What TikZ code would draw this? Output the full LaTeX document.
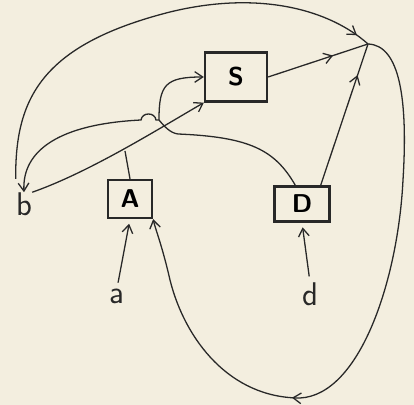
\documentclass[tikz,border=0pt]{standalone}
\usetikzlibrary{arrows.meta,decorations.markings}
\definecolor{paper}{RGB}{243,238,223}
\definecolor{ink}{RGB}{40,40,40}
\tikzset{
  wire/.style={draw=ink,line width=1.1pt},
  box/.style={draw=ink,line width=2pt,inner sep=0pt,font=\sffamily\bfseries\fontsize{22}{24}\selectfont},
  lbl/.style={text=ink,inner sep=0pt,font=\sffamily\fontsize{28}{30}\selectfont},
  >={Straight Barb[length=2.4mm,width=3.2mm]},
  midarrow/.style={postaction={decorate},decoration={markings,mark=at position #1 with {\arrow{>}}}}
}

\begin{document}
\begin{tikzpicture}[x=0.03cm,y=-0.03cm]
% Paper
\fill[paper] (0,0) rectangle (414,405);
\useasboundingbox (0,0) rectangle (414,405);

% Blocks
\node[box,minimum width=1.32cm,minimum height=1.14cm] (A) at (130,199) {A};
\node[box,minimum width=1.86cm,minimum height=1.47cm] (S) at (236,77) {S};
\node[box,minimum width=1.65cm,minimum height=1.05cm] (D) at (302,204) {D};

% Signals
\node[lbl] (b) at (24,204) {b};
\node[lbl] (a) at (117,296) {a};
\node[lbl] (d) at (310,294) {d};
\coordinate (hub) at (368,44);
\coordinate (J) at (159,120);
\coordinate (join) at (125,151);

% Inputs
\draw[wire,->,shorten <=5pt,shorten >=4pt] (a.north) -- (A.south);
\draw[wire,->,shorten <=5pt,shorten >=4pt] (d.north) -- (D.south);

% b to S, with A joining
\draw[wire,->] (b.north east) .. controls (90,172) and (160,128) .. (S.south west);
\draw[wire] (A.north) -- (join);

% D back to S and b
\draw[wire] ([xshift=-0.2cm]D.north) .. controls (275,150) and (250,137) .. (178,134)
  .. controls (170,133) and (164,126) .. (J);
\draw[wire,->] (J) .. controls (159,85) and (165,77) .. (S.west);
\draw[wire,->] (J) -- (156,120) .. controls (155,112) and (142,112) .. (141,120)
  .. controls (60,124) and (22,150) .. (b.north);

% Into the hub
\draw[wire,shorten <=0.4cm,midarrow=0.97] (b.north west) .. controls (15,100) and (40,45) .. (170,12)
  .. controls (260,-10) and (330,10) .. (hub);
\draw[wire,midarrow=0.65] (S.east) -- (hub);
\draw[wire,midarrow=0.78] ([xshift=-0.3cm]D.north east) -- (hub);

% Loop back to A
\draw[wire,->,midarrow=0.63] (hub) .. controls (400,45) and (408,100) .. (403,180)
  .. controls (398,280) and (360,395) .. (300,398)
  .. controls (230,398) and (185,340) .. (170,280)
  .. controls (162,245) and (155,228) .. (A.south east);
\end{tikzpicture}
\end{document}
